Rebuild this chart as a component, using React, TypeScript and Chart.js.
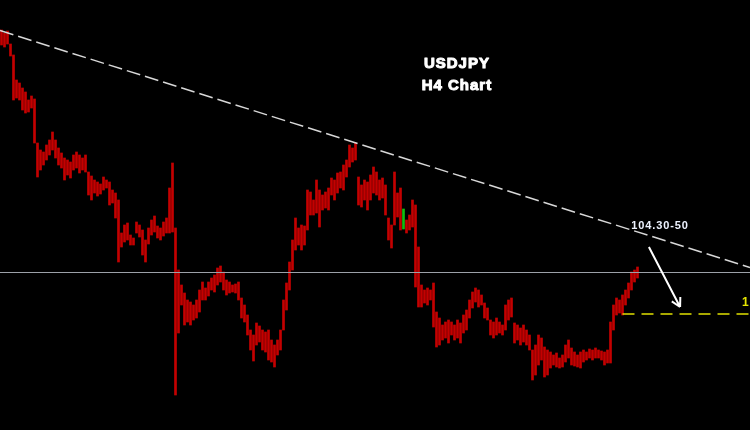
import React, { useEffect, useRef } from "react";
import { Chart, registerables } from "chart.js";

Chart.register(...registerables);

// H4 bar highs / lows (USDJPY), one value per 4-hour bar
const highs: number[] = [
  106.42, 106.39, 106.41, 106.28, 106.17, 105.92, 105.89, 105.84, 105.80, 105.72,
  105.76, 105.73, 105.29, 105.22, 105.20, 105.27, 105.32, 105.40, 105.32, 105.24,
  105.19, 105.14, 105.12, 105.10, 105.17, 105.20, 105.17, 105.14, 105.17, 105.00,
  104.96, 104.92, 104.90, 104.88, 104.95, 104.92, 104.90, 104.82, 104.79, 104.72,
  104.39, 104.47, 104.49, 104.37, 104.34, 104.50, 104.47, 104.42, 104.32, 104.44,
  104.52, 104.56, 104.46, 104.44, 104.50, 104.54, 104.84, 105.09, 104.44, 104.02,
  103.87, 103.79, 103.72, 103.70, 103.67, 103.72, 103.82, 103.90, 103.84, 103.90,
  103.94, 103.97, 104.04, 104.06, 104.00, 103.92, 103.90, 103.87, 103.88, 103.90,
  103.74, 103.67, 103.57, 103.42, 103.37, 103.49, 103.46, 103.42, 103.40, 103.42,
  103.32, 103.27, 103.32, 103.42, 103.72, 103.89, 104.10, 104.32, 104.54, 104.44,
  104.47, 104.46, 104.82, 104.80, 104.72, 104.92, 104.82, 104.77, 104.80, 104.84,
  104.94, 104.92, 104.99, 105.00, 105.07, 105.12, 105.27, 105.24, 105.29, 104.95,
  104.87, 104.92, 104.90, 104.97, 105.05, 105.00, 104.92, 104.94, 104.87, 104.54,
  104.47, 105.00, 104.79, 104.84, 104.63, 104.52, 104.57, 104.72, 104.67, 104.25,
  103.87, 103.82, 103.84, 103.82, 103.89, 103.60, 103.54, 103.47, 103.50, 103.52,
  103.50, 103.47, 103.52, 103.49, 103.57, 103.62, 103.72, 103.80, 103.84, 103.82,
  103.77, 103.69, 103.64, 103.52, 103.50, 103.54, 103.50, 103.47, 103.67, 103.72,
  103.74, 103.49, 103.47, 103.44, 103.47, 103.42, 103.37, 103.22, 103.27, 103.37,
  103.34, 103.25, 103.22, 103.20, 103.17, 103.19, 103.14, 103.17, 103.27, 103.32,
  103.24, 103.20, 103.17, 103.20, 103.22, 103.20, 103.23, 103.22, 103.24, 103.22,
  103.21, 103.20, 103.22, 103.50, 103.67, 103.74, 103.72, 103.77, 103.82, 103.89,
  104.00, 104.02, 104.05,
];

const lows: number[] = [
  106.27, 106.25, 106.28, 106.16, 105.72, 105.74, 105.72, 105.62, 105.59, 105.60,
  105.64, 105.29, 104.95, 105.02, 105.07, 105.12, 105.17, 105.22, 105.14, 105.07,
  105.04, 104.92, 104.97, 104.94, 105.02, 105.04, 104.99, 105.02, 105.00, 104.77,
  104.72, 104.79, 104.76, 104.78, 104.82, 104.84, 104.67, 104.69, 104.54, 104.10,
  104.25, 104.30, 104.32, 104.27, 104.27, 104.39, 104.35, 104.17, 104.10, 104.28,
  104.37, 104.40, 104.34, 104.32, 104.36, 104.39, 104.39, 104.40, 102.77, 103.39,
  103.67, 103.47, 103.50, 103.47, 103.52, 103.54, 103.60, 103.72, 103.72, 103.76,
  103.82, 103.80, 103.87, 103.90, 103.82, 103.77, 103.79, 103.80, 103.79, 103.72,
  103.54, 103.50, 103.37, 103.22, 103.11, 103.27, 103.30, 103.22, 103.20, 103.12,
  103.10, 103.05, 103.17, 103.22, 103.42, 103.62, 103.82, 104.02, 104.22, 104.27,
  104.22, 104.27, 104.42, 104.57, 104.57, 104.59, 104.45, 104.62, 104.64, 104.62,
  104.77, 104.72, 104.79, 104.84, 104.82, 104.95, 105.05, 105.10, 105.12, 104.67,
  104.65, 104.72, 104.62, 104.72, 104.79, 104.77, 104.72, 104.74, 104.57, 104.32,
  104.24, 104.47, 104.55, 104.42, 104.43, 104.39, 104.42, 104.45, 103.85, 103.65,
  103.65, 103.69, 103.67, 103.72, 103.45, 103.25, 103.27, 103.32, 103.34, 103.29,
  103.37, 103.32, 103.34, 103.29, 103.39, 103.42, 103.54, 103.64, 103.70, 103.65,
  103.67, 103.54, 103.52, 103.37, 103.34, 103.37, 103.39, 103.37, 103.42, 103.52,
  103.55, 103.29, 103.32, 103.27, 103.30, 103.27, 103.22, 102.92, 102.97, 103.07,
  103.12, 102.95, 102.97, 103.04, 103.07, 103.05, 103.04, 103.05, 103.10, 103.14,
  103.07, 103.06, 103.05, 103.04, 103.10, 103.12, 103.14, 103.12, 103.14, 103.14,
  103.12, 103.07, 103.09, 103.09, 103.42, 103.57, 103.59, 103.57, 103.67, 103.74,
  103.82, 103.90, 103.94,
];

const bullishBars: number[] = [134];
const totalSlots = 250; // includes empty future bars on the right

const priceMin = 102.42;
const priceMax = 106.72;

// drawing objects (bar index, price)
const trendStart = { i: 0, p: 106.41 };
const trendEnd = { i: 249, p: 104.05 };
const supportPrice = 104.0;
const targetPrice = 103.58;
const targetStart = 207;
const targetLabel = "103.60";
const arrowFrom = { i: 215.8, p: 104.25 };
const arrowTo = { i: 226.2, p: 103.65 };
const zoneLabel = { text: "104.30-50", i: 219.5, p: 104.46 };
const titleLines = ["USDJPY", "H4 Chart"];
const titlePos = { i: 151.8, p: [106.085, 105.865] };

export default function App() {
  const ref = useRef<HTMLCanvasElement | null>(null);

  useEffect(() => {
    document.body.style.margin = "0";
    document.body.style.background = "#000";
    const canvas = ref.current!;
    const labels = Array.from({ length: totalSlots }, (_, k) => String(k));
    const data = labels.map((_, k) =>
      k < highs.length ? [lows[k], highs[k]] : null
    );
    const colors = labels.map((_, k) =>
      bullishBars.includes(k) ? "#10c010" : "#c40000"
    );

    const overlay = {
      id: "overlay",
      beforeDraw(chart: any) {
        const c = chart.ctx;
        c.save();
        c.fillStyle = "#000";
        c.fillRect(0, 0, chart.width, chart.height);
        c.restore();
      },
      afterDatasetsDraw(chart: any) {
        const c = chart.ctx as any;
        const xs = chart.scales.x;
        const ys = chart.scales.y;
        const X = (i: number) => xs.getPixelForValue(i);
        const Y = (p: number) => ys.getPixelForValue(p);
        const W = chart.width;
        c.save();

        // support horizontal line
        c.strokeStyle = "#9ca1a8";
        c.lineWidth = 1;
        c.beginPath();
        c.moveTo(0, Math.round(Y(supportPrice)) + 0.5);
        c.lineTo(W, Math.round(Y(supportPrice)) + 0.5);
        c.stroke();

        // trendline extended to edges
        const x1 = X(trendStart.i), y1 = Y(trendStart.p);
        const x2 = X(trendEnd.i), y2 = Y(trendEnd.p);
        const slope = (y2 - y1) / (x2 - x1);
        c.strokeStyle = "#d8d8d8";
        c.lineWidth = 1.5;
        c.setLineDash([14, 5]);
        c.beginPath();
        c.moveTo(0, y1 - slope * x1);
        c.lineTo(W, y1 + slope * (W - x1));
        c.stroke();

        // yellow target line
        c.strokeStyle = "#e0e000";
        c.lineWidth = 1.5;
        c.setLineDash([12, 7]);
        c.beginPath();
        c.moveTo(X(targetStart), Y(targetPrice));
        c.lineTo(W, Y(targetPrice));
        c.stroke();
        c.setLineDash([]);

        // arrow
        const ax1 = X(arrowFrom.i), ay1 = Y(arrowFrom.p);
        const ax2 = X(arrowTo.i), ay2 = Y(arrowTo.p);
        c.strokeStyle = "#ffffff";
        c.lineWidth = 2;
        c.beginPath();
        c.moveTo(ax1, ay1);
        c.lineTo(ax2, ay2);
        const ang = Math.atan2(ay2 - ay1, ax2 - ax1);
        const hl = 10;
        c.moveTo(ax2, ay2);
        c.lineTo(ax2 - hl * Math.cos(ang - 0.5), ay2 - hl * Math.sin(ang - 0.5));
        c.moveTo(ax2, ay2);
        c.lineTo(ax2 - hl * Math.cos(ang + 0.5), ay2 - hl * Math.sin(ang + 0.5));
        c.stroke();

        // texts
        c.textBaseline = "middle";
        c.textAlign = "center";
        c.fillStyle = "#ffffff";
        c.strokeStyle = "#ffffff";
        c.lineWidth = 1;
        c.lineJoin = "round";
        c.font = "bold 15px 'Liberation Sans', Arial, sans-serif";
        c.letterSpacing = "1px";
        titleLines.forEach((t, k) => {
          c.fillText(t, X(titlePos.i), Y(titlePos.p[k]));
          c.strokeText(t, X(titlePos.i), Y(titlePos.p[k]));
        });

        c.fillStyle = "#eef3ff";
        c.font = "bold 11px 'Liberation Sans', Arial, sans-serif";
        c.letterSpacing = "0.9px";
        c.fillText(zoneLabel.text, X(zoneLabel.i), Y(zoneLabel.p));

        c.textAlign = "left";
        c.fillStyle = "#e6e600";
        c.font = "bold 12px 'Liberation Sans', Arial, sans-serif";
        c.letterSpacing = "0.9px";
        c.fillText(targetLabel, 742, Y(targetPrice) - 11);

        c.restore();
      },
    };

    const chart = new Chart(canvas, {
      type: "bar",
      data: {
        labels,
        datasets: [
          {
            data: data as any,
            backgroundColor: colors,
            borderWidth: 0,
            barThickness: 2,
            borderSkipped: false,
          },
        ],
      },
      options: {
        responsive: false,
        animation: false,
        maintainAspectRatio: false,
        layout: { padding: 0 },
        plugins: { legend: { display: false }, tooltip: { enabled: false } },
        scales: {
          x: { display: false, offset: true },
          y: { display: false, min: priceMin, max: priceMax },
        },
      },
      plugins: [overlay],
    });
    return () => chart.destroy();
  }, []);

  return (
    <div style={{ position: "absolute", left: 0, top: 0, width: 750, height: 430, background: "#000" }}>
      <canvas ref={ref} width={750} height={430} />
    </div>
  );
}
